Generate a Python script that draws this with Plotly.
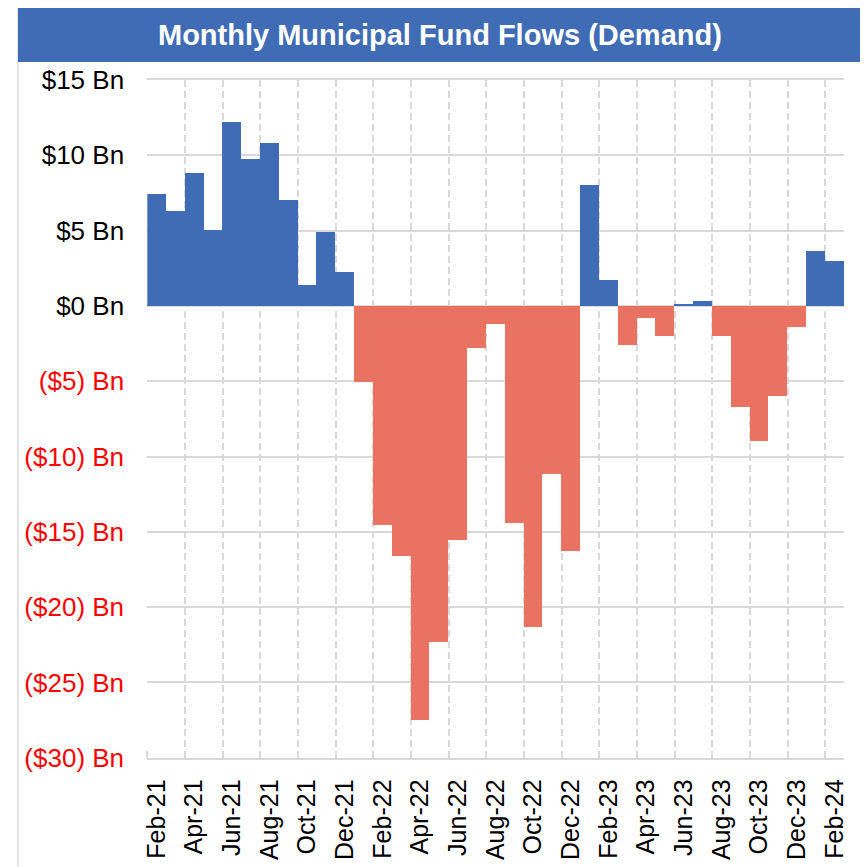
import plotly.graph_objects as go

# ---- data ----
months = ["Feb-21", "Mar-21", "Apr-21", "May-21", "Jun-21", "Jul-21", "Aug-21", "Sep-21",
          "Oct-21", "Nov-21", "Dec-21", "Jan-22", "Feb-22", "Mar-22", "Apr-22", "May-22",
          "Jun-22", "Jul-22", "Aug-22", "Sep-22", "Oct-22", "Nov-22", "Dec-22", "Jan-23",
          "Feb-23", "Mar-23", "Apr-23", "May-23", "Jun-23", "Jul-23", "Aug-23", "Sep-23",
          "Oct-23", "Nov-23", "Dec-23", "Jan-24", "Feb-24"]
flows_bn = [7.41, 6.30, 8.85, 5.02, 12.21, 9.75, 10.79, 7.03,
            1.39, 4.91, 2.28, -5.04, -14.58, -16.63, -27.52, -22.34,
            -15.57, -2.77, -1.17, -14.44, -21.35, -11.13, -16.30, 8.01,
            1.70, -2.59, -0.80, -1.99, 0.07, 0.35, -1.99, -6.70,
            -8.96, -5.97, -1.39, 3.63, 3.01]
y_tick_values = [15, 10, 5, 0, -5, -10, -15, -20, -25, -30]
y_tick_labels = ["$15 Bn", "$10 Bn", "$5 Bn", "$0 Bn", "($5) Bn", "($10) Bn",
                 "($15) Bn", "($20) Bn", "($25) Bn", "($30) Bn"]
title_text = "Monthly Municipal Fund Flows (Demand)"

# ---- styling ----
OFF = 8  # page body margin offset
W, H = 868 - OFF, 867 - OFF
BLUE = "#3F6CB4"
RED = "#E97263"
GRID = "#D9D9D9"
FONT = "Liberation Sans, Arial, sans-serif"

# plot area in window pixels
px_left, px_right, px_top, px_bottom = 147.3, 844.1, 80.0, 757.7

def fx(px):
    return (px - OFF) / W

def fy(py):
    return 1 - (py - OFF) / H

idx = list(range(len(months)))
colors = [BLUE if v >= 0 else RED for v in flows_bn]

fig = go.Figure()
fig.add_trace(go.Bar(
    x=idx, y=flows_bn, marker=dict(color=colors, line=dict(width=0)),
    customdata=months, hovertemplate="%{customdata}: %{y:.2f} Bn<extra></extra>",
    showlegend=False,
))

y_text = [
    lab if v >= 0 else f'<span style="color:#FF0000">{lab}</span>'
    for v, lab in zip(y_tick_values, y_tick_labels)
]

fig.update_layout(
    width=W, height=H,
    margin=dict(l=0, r=0, t=0, b=0),
    paper_bgcolor="white", plot_bgcolor="white",
    bargap=0,
    font=dict(family=FONT, color="#000000"),
    xaxis=dict(
        domain=[fx(px_left), fx(px_right)],
        range=[-0.5, len(months) - 0.5],
        tickmode="array",
        tickvals=idx[::2], ticktext=months[::2],
        tickangle=-90,
        tickfont=dict(size=25, family=FONT, color="#000000"),
        ticks="outside", ticklen=10, tickcolor="rgba(0,0,0,0)",
        showgrid=False, zeroline=False,
        showline=True, mirror=True, linecolor=GRID, linewidth=1.5,
        automargin=False, fixedrange=True,
        minor=dict(
            tickmode="array",
            tickvals=[i - 0.5 for i in idx[::2]],
            showgrid=True, gridcolor=GRID, gridwidth=1.5, griddash="7px,4px",
            ticks="inside", ticklen=7, tickcolor=GRID, tickwidth=1.5,
        ),
    ),
    yaxis=dict(
        domain=[fy(px_bottom), fy(px_top)],
        range=[-30, 15],
        tickmode="array",
        tickvals=y_tick_values, ticktext=y_text,
        tickfont=dict(size=26, family=FONT, color="#000000"),
        ticks="outside", ticklen=17, tickcolor="rgba(0,0,0,0)",
        showgrid=True, gridcolor=GRID, gridwidth=1.5,
        zeroline=False, showline=False,
        automargin=False, fixedrange=True,
    ),
    shapes=[
        # outer frame
        dict(type="rect", xref="paper", yref="paper",
             x0=fx(18), x1=fx(862), y0=fy(900), y1=fy(5),
             line=dict(color=GRID, width=1.5), fillcolor="rgba(0,0,0,0)", layer="below"),
        # title band
        dict(type="rect", xref="paper", yref="paper",
             x0=fx(18), x1=fx(862), y0=fy(62), y1=fy(5),
             line=dict(width=0), fillcolor=BLUE, layer="above"),
    ],
    annotations=[
        dict(text=f"<b>{title_text}</b>", xref="paper", yref="paper",
             x=fx(440), y=fy(35), xanchor="center", yanchor="middle",
             showarrow=False, font=dict(size=29, family=FONT, color="white")),
    ],
)

fig.write_html("out.html")
